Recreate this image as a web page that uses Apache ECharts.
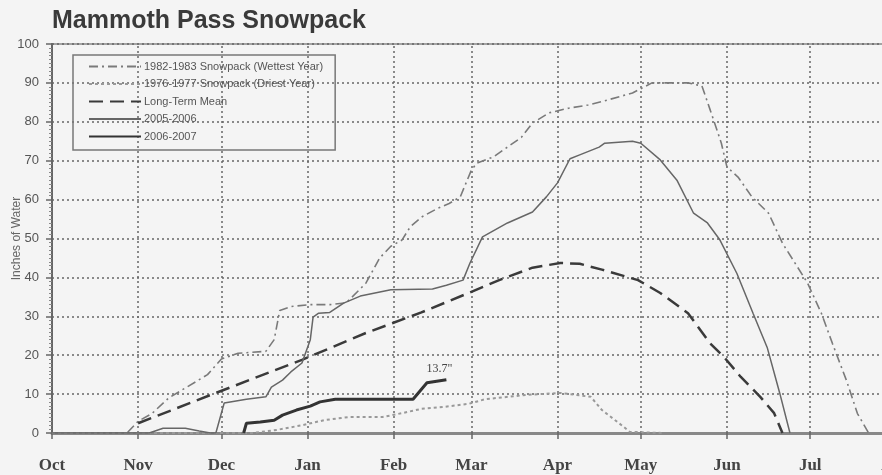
<!DOCTYPE html>
<html>
<head>
<meta charset="utf-8">
<script src="https://cdn.jsdelivr.net/npm/echarts@6/dist/echarts.min.js"></script>
<style>
html,body{margin:0;padding:0;background:#f4f4f4;}
#chart{width:882px;height:475px;}
</style>
</head>
<body>
<div id="chart"></div>
<script>
// X values are days since Oct 1
var monthDays = [0, 31, 61, 92, 123, 151, 182, 212, 243, 273, 304];
var monthNames = ['Oct', 'Nov', 'Dec', 'Jan', 'Feb', 'Mar', 'Apr', 'May', 'Jun', 'Jul', 'Aug'];

var wetDays = [0, 27, 31, 36, 42, 49, 56, 61, 67, 77, 80, 82, 86, 93, 100, 106, 113, 118, 122, 126, 129, 133, 139, 143, 147, 151, 153, 159, 164, 169, 173, 179, 186, 193, 200, 209, 216, 221, 229, 234, 237, 241, 243, 247, 252, 258, 263, 272, 277, 281, 286, 290, 294];
var wetVals = [0, 0, 3, 5, 9, 12, 15, 19, 20.5, 21, 24, 31.5, 32.5, 33, 33, 33.5, 38.5, 45, 48, 49.6, 53, 55.5, 57.8, 59, 60.7, 67.6, 69.4, 71, 73.5, 76, 79.7, 82.3, 83.5, 84.3, 85.6, 87.4, 90, 90, 90, 89.2, 83, 74.5, 68.4, 65.8, 60.7, 56.5, 48.8, 38.6, 30.8, 23, 13.6, 5, 0];

var dryDays = [0, 72, 81, 90, 98, 107, 119, 126, 133, 141, 150, 156, 171, 183, 194, 198, 206, 208, 220];
var dryVals = [0, 0, 0.8, 2, 3.3, 4.1, 4.1, 5.1, 6.2, 6.7, 7.5, 8.7, 9.8, 10.3, 9.3, 5.9, 1.5, 0.3, 0];

var meanDays = [31, 59, 90, 113, 133, 150, 161, 173, 183, 190, 198, 211, 219, 229, 237, 242, 248, 255, 260, 263];
var meanVals = [2.5, 10.3, 18.8, 25.7, 31, 36, 39.3, 42.5, 43.7, 43.5, 42, 39.3, 36, 30.8, 23, 19.5, 14.4, 9.3, 5.1, 0];

var y0506Days = [0, 35, 40, 48, 53, 57, 59, 62, 70, 77, 79, 83, 86, 90, 93, 94, 96, 100, 105, 111, 122, 137, 142, 148, 150.5, 155, 164, 173, 178, 182, 186.5, 190, 197, 199, 209, 212, 219, 225, 231, 236, 240.5, 246.6, 252.4, 257.5, 262, 265.7];
var y0506Vals = [0, 0, 1.2, 1.2, 0.5, 0, 0, 7.7, 8.7, 9.3, 11.8, 13.6, 15.7, 18, 24, 29.8, 30.8, 31, 33.4, 35.2, 36.8, 37, 38, 39.3, 43.7, 50.4, 54, 56.8, 60.7, 64.3, 70.5, 71.5, 73.5, 74.5, 75, 74.5, 70.2, 65, 56.5, 54, 49.6, 41, 30.8, 22, 10.3, 0];

var y0607Days = [69, 70, 75, 80, 83, 88, 93, 96.5, 102, 130, 135, 142];
var y0607Vals = [0, 2.5, 2.8, 3.3, 4.6, 5.9, 6.9, 8, 8.7, 8.7, 12.9, 13.7];
var latestLabel = '13.7"';

var seriesNames = ['1982-1983 Snowpack (Wettest Year)', '1976-1977 Snowpack (Driest Year)', 'Long-Term Mean', '2005-2006', '2006-2007'];
var yTicks = [0, 10, 20, 30, 40, 50, 60, 70, 80, 90, 100];

function zip(a, b) { return a.map(function (d, i) { return [d, b[i]]; }); }

var chart = echarts.init(document.getElementById('chart'), null, { renderer: 'canvas' });

var gridMarks = monthDays.slice(1, 10).map(function (d) { return { xAxis: d }; });
var lastIdx = y0607Days.length - 1;

var option = {
  backgroundColor: '#f4f4f4',
  animation: false,
  title: {
    text: 'Mammoth Pass Snowpack', left: 47, top: 4,
    textStyle: { fontFamily: 'Liberation Sans', fontWeight: 'bold', fontSize: 25, color: '#3a3a3a' }
  },
  legend: {
    orient: 'vertical', left: 73, top: 55,
    data: seriesNames,
    itemWidth: 52, itemHeight: 10, itemGap: 6.5,
    padding: [6, 12, 8, 15],
    borderColor: '#777', borderWidth: 1.5,
    itemStyle: { opacity: 0 },
    textStyle: { fontFamily: 'Liberation Sans', fontSize: 11, color: '#555', padding: [0, 0, 0, -2] }
  },
  grid: {
    left: 52, top: 44, bottom: 42, width: 861,
    outerBoundsMode: 'none',
    containLabel: false,
    show: true, borderColor: '#888', borderWidth: 1.5, backgroundColor: 'transparent'
  },
  xAxis: {
    type: 'value', min: 0, max: 310,
    axisLine: { show: true, onZero: false, lineStyle: { color: '#888', width: 3 } },
    axisTick: { show: true, customValues: monthDays, length: 6, lineStyle: { color: '#666', width: 1.5 } },
    axisLabel: {
      customValues: monthDays,
      formatter: function (v) { var i = monthDays.indexOf(v); return i >= 0 ? monthNames[i] : ''; },
      fontFamily: 'Liberation Serif', fontWeight: 'bold', fontSize: 17, color: '#444', margin: 24
    },
    splitLine: { show: false }
  },
  yAxis: {
    type: 'value', min: 0, max: 100, interval: 10,
    name: 'Inches of Water', nameLocation: 'middle', nameGap: 29, nameRotate: 90,
    nameMoveOverlap: false,
    nameTextStyle: { fontFamily: 'Liberation Sans', fontSize: 12, color: '#666' },
    axisLine: { show: true, lineStyle: { color: '#666', width: 2 } },
    axisTick: { show: true, length: 6, lineStyle: { color: '#666', width: 1.5 } },
    minorTick: { show: true, splitNumber: 10, length: 3, lineStyle: { color: '#888' } },
    axisLabel: {
      formatter: function (v) { return yTicks.indexOf(v) >= 0 ? String(v) : ''; },
      fontFamily: 'Liberation Sans', fontSize: 13, color: '#555', margin: 13
    },
    splitLine: { show: true, lineStyle: { color: '#666', width: 1.5, type: [2, 3] } }
  },
  series: [
    {
      name: seriesNames[0], type: 'line', symbol: 'none', data: zip(wetDays, wetVals),
      lineStyle: { color: '#7a7a7a', width: 1.6, type: [9, 4, 2, 4] }, itemStyle: { color: '#7a7a7a' },
      z: 3,
      markLine: {
        silent: true, symbol: 'none', label: { show: false },
        lineStyle: { color: '#666', width: 1.5, type: [2, 3] },
        data: gridMarks, z: 1
      }
    },
    {
      name: seriesNames[1], type: 'line', symbol: 'none', data: zip(dryDays, dryVals),
      lineStyle: { color: '#999', width: 2, type: [3, 3] }, itemStyle: { color: '#999' }, z: 3
    },
    {
      name: seriesNames[2], type: 'line', symbol: 'none', data: zip(meanDays, meanVals),
      lineStyle: { color: '#3a3a3a', width: 2.5, type: [14, 7] }, itemStyle: { color: '#3a3a3a' }, z: 4
    },
    {
      name: seriesNames[3], type: 'line', symbol: 'none', data: zip(y0506Days, y0506Vals),
      lineStyle: { color: '#666', width: 1.5 }, itemStyle: { color: '#666' }, z: 4
    },
    {
      name: seriesNames[4], type: 'line', symbol: 'none', data: zip(y0607Days, y0607Vals),
      lineStyle: { color: '#333', width: 3 }, itemStyle: { color: '#333' }, z: 5,
      markPoint: {
        silent: true, symbol: 'circle', symbolSize: 1,
        itemStyle: { color: 'rgba(0,0,0,0)' },
        label: {
          show: true, formatter: latestLabel, position: 'top', distance: 4, offset: [-7, 0],
          fontFamily: 'Liberation Serif', fontSize: 12, color: '#444'
        },
        data: [{ coord: [y0607Days[lastIdx], y0607Vals[lastIdx]] }]
      }
    }
  ]
};
chart.setOption(option);
</script>
</body>
</html>
